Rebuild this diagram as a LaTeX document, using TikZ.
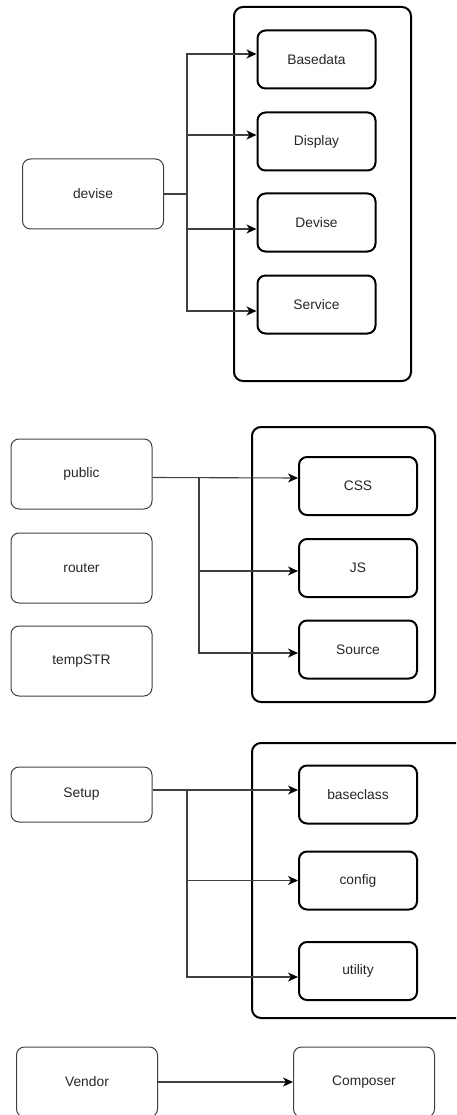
\documentclass[tikz,border=0pt]{standalone}
\usepackage{fontspec}
\setmainfont{Liberation Sans}
\usetikzlibrary{arrows.meta,calc}
\definecolor{ink}{HTML}{262626}
\definecolor{edge}{HTML}{404040}
\tikzset{
  outerbox/.style={draw=edge, line width=1pt, rounded corners=8pt, minimum width=141pt, minimum height=70pt, inner sep=0pt, text=ink, font=\fontsize{13.8}{16}\selectfont},
  innerbox/.style={draw=black, line width=2pt, rounded corners=8pt, minimum width=118pt, minimum height=58pt, inner sep=0pt, text=ink, font=\fontsize{13.8}{16}\selectfont},
  groupbox/.style={draw=black, line width=2pt, rounded corners=9pt},
  link/.style={draw=edge, line width=1.1pt},
  arr/.style={link, -{Stealth[length=10pt,width=9pt,inset=3pt,color=black]}},
}
\begin{document}
\begin{tikzpicture}[x=1pt,y=-1pt]
\useasboundingbox (0,0) rectangle (456,1115);
\clip (0,0) rectangle (456,1115);

% --- devise group ---
\draw[groupbox] (234,7) rectangle (411,381);
\node[innerbox] (basedata) at (316.5,59.5) {Basedata};
\node[innerbox] (display) at (316.5,141.5) {Display};
\node[innerbox] (devisemod) at (316.5,222.5) {Devise};
\node[innerbox] (service) at (316.5,304.5) {Service};
\node[outerbox] (devise) at (93,194) {devise};
\coordinate (t1) at (187,194);
\draw[link] (devise.east) -- (t1);
\draw[arr] (t1) |- ([yshift=5.5pt]basedata.west);
\draw[arr] (t1) |- ([yshift=6.5pt]display.west);
\draw[arr] (t1) |- ([yshift=-6.5pt]devisemod.west);
\draw[arr] (t1) |- ([yshift=-6.5pt]service.west);

% --- public group ---
\draw[groupbox] (252,427) rectangle (435,702);
\node[innerbox] (css) at (358,486) {CSS};
\node[innerbox] (js) at (358,568) {JS};
\node[innerbox] (source) at (358,649.5) {Source};
\node[outerbox] (public) at (81.5,474) {public};
\node[outerbox] (router) at (81.5,568) {router};
\node[outerbox] (tempstr) at (81.5,661) {tempSTR};
\coordinate (t2) at (199,477.5);
\draw[arr] ([yshift=-3.5pt]public.east) -- ([yshift=8pt]css.west);
\draw[arr] (t2) |- ([yshift=-3pt]js.west);
\draw[arr] (t2) |- ([yshift=-3.5pt]source.west);

% --- Setup group ---
\draw[groupbox] (252,743) rectangle (475,1018);
\node[innerbox] (baseclass) at (358,794.5) {baseclass};
\node[innerbox] (config) at (358,880.5) {config};
\node[innerbox] (utility) at (358,971) {utility};
\node[outerbox, minimum height=55pt] (setup) at (81.5,794.5) {Setup};
\coordinate (t3) at (187,790);
\draw[arr] ([yshift=4.5pt]setup.east) -- ([yshift=4.5pt]baseclass.west);
\draw[arr] (t3) |- (config.west);
\draw[arr] (t3) |- ([yshift=-6pt]utility.west);

% --- Vendor ---
\node[outerbox] (vendor) at (87,1082) {Vendor};
\node[outerbox] (composer) at (364,1082) {Composer};
\draw[arr] (vendor) -- (composer);
\end{tikzpicture}
\end{document}
